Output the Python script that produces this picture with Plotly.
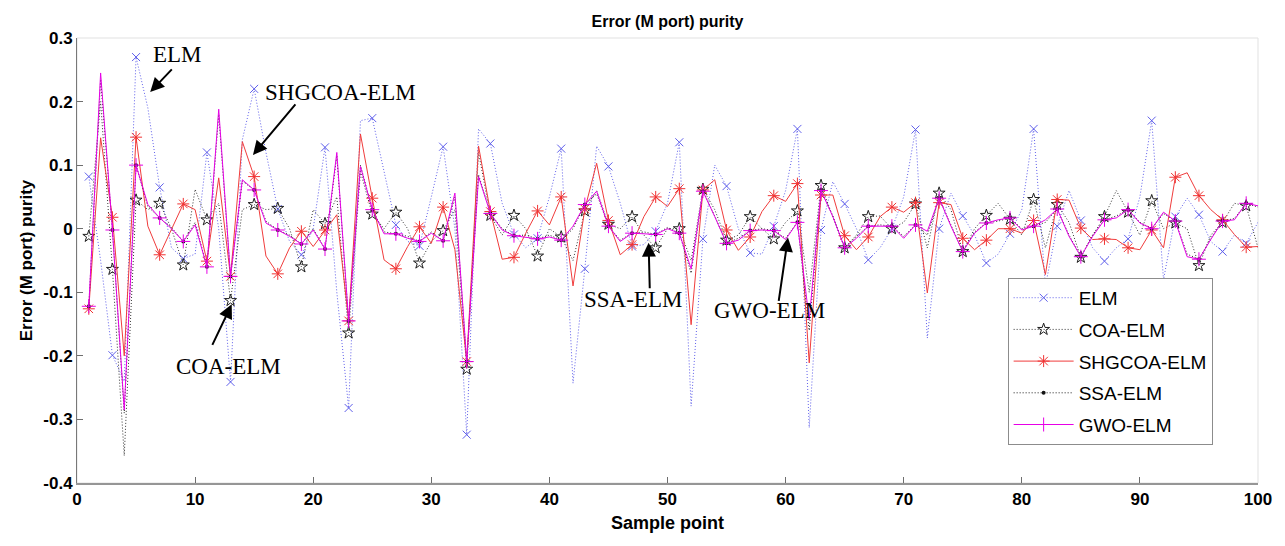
import plotly.graph_objects as go

x_vals = list(range(1, 101))

elm = [0.082, -0.05, -0.199, -0.24, 0.27, 0.19, 0.065, -0.03, -0.047, -0.04,
       0.12, 0.0, -0.241, 0.14, 0.22, 0.12, 0.031, -0.02, -0.041, 0.0,
       0.128, -0.1, -0.282, 0.17, 0.174, 0.09, 0.006, -0.02, -0.027, 0.05,
       0.129, 0.0, -0.324, 0.157, 0.134, 0.04, -0.009, -0.03, -0.015, 0.05,
       0.126, -0.243, -0.063, 0.13, 0.098, 0.04, -0.028, -0.025, -0.004, 0.04,
       0.136, -0.279, -0.016, 0.1, 0.067, 0.0, -0.038, -0.04, 0.004, 0.06,
       0.157, -0.313, -0.002, 0.074, 0.039, 0.0, -0.049, -0.03, 0.0, 0.05,
       0.156, -0.172, 0.0, 0.056, 0.02, -0.01, -0.054, -0.04, -0.008, 0.03,
       0.157, -0.09, 0.004, 0.06, 0.013, -0.03, -0.051, -0.03, -0.016, 0.05,
       0.17, -0.08, 0.019, 0.048, 0.022, -0.02, -0.036, -0.01, -0.023, 0.01]

coa = [-0.012, 0.2, -0.064, -0.357, 0.045, 0.03, 0.04, 0.0, -0.057, 0.062,
       0.014, 0.04, -0.113, 0.03, 0.038, 0.03, 0.032, 0.0, -0.06, 0.03,
       0.008, 0.05, -0.164, 0.09, 0.023, 0.0, 0.026, 0.0, -0.054, -0.02,
       -0.003, 0.03, -0.221, 0.12, 0.021, -0.01, 0.021, 0.0, -0.043, 0.0,
       -0.013, -0.05, 0.028, 0.06, 0.007, 0.0, 0.019, -0.01, -0.03, 0.0,
       0.0, -0.05, 0.062, 0.03, -0.018, -0.01, 0.019, 0.0, -0.016, 0.01,
       0.028, -0.1, 0.068, 0.02, -0.03, -0.01, 0.019, 0.02, 0.0, 0.01,
       0.039, -0.03, 0.056, 0.03, -0.036, 0.0, 0.021, 0.04, 0.015, -0.01,
       0.046, -0.03, 0.038, 0.01, -0.045, -0.01, 0.019, 0.06, 0.026, -0.01,
       0.044, 0.0, 0.009, 0.0, -0.058, -0.01, 0.01, 0.04, 0.036, -0.03]

shgcoa = [-0.126, 0.143, 0.018, -0.2, 0.144, 0.004, -0.041, 0.0, 0.039, 0.03,
          -0.051, 0.08, -0.075, 0.137, 0.082, -0.043, -0.071, -0.03, -0.004, -0.028,
          -0.002, 0.022, -0.145, 0.149, 0.048, -0.049, -0.063, -0.028, 0.003, -0.023,
          0.034, -0.033, -0.209, 0.13, 0.027, -0.048, -0.045, -0.007, 0.028, 0.006,
          0.05, -0.09, 0.031, 0.103, 0.013, -0.041, -0.025, 0.019, 0.05, 0.035,
          0.063, -0.151, 0.061, 0.077, -0.002, -0.034, -0.013, 0.027, 0.052, 0.043,
          0.071, -0.211, 0.053, 0.053, -0.011, -0.033, -0.013, 0.019, 0.034, 0.026,
          0.041, -0.101, 0.041, 0.038, -0.015, -0.033, -0.018, 0.0, 0.0, -0.007,
          0.013, -0.072, 0.046, 0.045, 0.001, -0.017, -0.016, -0.017, -0.03, -0.033,
          -0.002, -0.03, 0.081, 0.088, 0.052, 0.03, 0.014, -0.009, -0.029, -0.028]

ssa = [-0.122, 0.235, -0.002, -0.29, 0.1, 0.035, 0.017, 0.002, -0.02, 0.01,
       -0.06, 0.18, -0.075, 0.075, 0.061, 0.012, -0.002, -0.01, -0.024, 0.0,
       -0.032, 0.115, -0.145, 0.1, 0.03, -0.005, -0.008, -0.012, -0.02, -0.005,
       -0.019, 0.05, -0.209, 0.085, 0.024, 0.0, -0.011, -0.01, -0.016, -0.01,
       -0.018, 0.0, 0.038, 0.055, 0.004, -0.018, -0.007, -0.005, -0.009, 0.002,
       -0.007, -0.07, 0.059, 0.02, -0.023, -0.015, -0.003, 0.0, -0.003, -0.015,
       0.01, -0.16, 0.06, 0.02, -0.03, -0.012, 0.004, 0.006, 0.004, -0.012,
       0.006, -0.01, 0.048, 0.006, -0.036, -0.005, 0.009, 0.012, 0.017, 0.0,
       0.004, 0.01, 0.031, -0.01, -0.044, -0.01, 0.014, 0.02, 0.03, 0.01,
       0.0, 0.024, 0.012, -0.04, -0.048, -0.015, 0.012, 0.016, 0.04, 0.034]

gwo = [-0.122, 0.245, -0.002, -0.285, 0.1, 0.038, 0.017, 0.0, -0.02, 0.006,
       -0.06, 0.188, -0.075, 0.077, 0.061, 0.009, -0.002, -0.012, -0.024, -0.002,
       -0.032, 0.12, -0.145, 0.098, 0.03, -0.008, -0.008, -0.015, -0.02, -0.007,
       -0.019, 0.056, -0.209, 0.082, 0.024, -0.002, -0.011, -0.013, -0.016, -0.013,
       -0.018, 0.004, 0.038, 0.059, 0.004, -0.02, -0.007, -0.008, -0.009, 0.0,
       -0.007, -0.063, 0.059, 0.019, -0.023, -0.018, -0.003, -0.002, -0.003, -0.017,
       0.01, -0.143, 0.06, 0.019, -0.03, -0.015, 0.004, 0.004, 0.004, -0.015,
       0.006, -0.004, 0.048, 0.004, -0.036, -0.007, 0.009, 0.014, 0.017, -0.002,
       0.004, 0.014, 0.031, -0.012, -0.044, -0.012, 0.014, 0.017, 0.03, 0.009,
       0.0, 0.026, 0.012, -0.044, -0.048, -0.017, 0.012, 0.014, 0.04, 0.036]

x_ticks = [0, 10, 20, 30, 40, 50, 60, 70, 80, 90, 100]
y_ticks = [0.3, 0.2, 0.1, 0.0, -0.1, -0.2, -0.3, -0.4]
y_ticktext = ["0.3", "0.2", "0.1", "0", "-0.1", "-0.2", "-0.3", "-0.4"]

DOT = "1px,2px"
series = [
    ("ELM", elm, dict(color="rgb(95,95,235)", dash=DOT, width=1),
     dict(symbol="x-thin-open", size=8, color="rgb(95,95,235)", line=dict(width=1, color="rgb(95,95,235)"))),
    ("COA-ELM", coa, dict(color="rgb(50,50,50)", dash=DOT, width=1),
     dict(symbol="star-open", size=9, color="rgb(30,30,30)", line=dict(width=1, color="rgb(30,30,30)"))),
    ("SHGCOA-ELM", shgcoa, dict(color="rgb(240,60,60)", dash="solid", width=1),
     dict(symbol="asterisk-open", size=10, color="rgb(240,50,50)", line=dict(width=1, color="rgb(240,50,50)"))),
    ("SSA-ELM", ssa, dict(color="rgb(30,30,30)", dash=DOT, width=1),
     dict(symbol="circle", size=4, color="rgb(20,20,20)", line=dict(width=0))),
    ("GWO-ELM", gwo, dict(color="rgb(230,0,230)", dash="solid", width=1),
     dict(symbol="cross-thin-open", size=10, color="rgb(230,0,230)", line=dict(width=1, color="rgb(230,0,230)"))),
]

fig = go.Figure()
for name, vals, line, marker in series:
    fig.add_trace(go.Scatter(x=x_vals, y=vals, mode="lines", line=line,
                             showlegend=False, hoverinfo="skip"))
    fig.add_trace(go.Scatter(x=x_vals[::2], y=vals[::2], mode="markers",
                             marker=marker, showlegend=False, name=name))
for name, vals, line, marker in series:
    fig.add_trace(go.Scatter(x=[None], y=[None], mode="lines+markers", name=name,
                             line=line, marker=marker, legendgroup=name))

arrows = [
    (6.2, 0.215, 8.15, 0.253),
    (14.9, 0.116, 18.6, 0.198),
    (13.1, -0.119, 11.4, -0.185),
    (48.4, -0.022, 48.5, -0.096),
    (60.2, -0.014, 59.4, -0.116),
]
labels = [
    ("ELM", 8.5, 0.274),
    ("SHGCOA-ELM", 22.3, 0.215),
    ("COA-ELM", 12.8, -0.217),
    ("SSA-ELM", 47.1, -0.112),
    ("GWO-ELM", 58.6, -0.129),
]
annos = []
for hx, hy, tx, ty in arrows:
    annos.append(dict(x=hx, y=hy, ax=tx, ay=ty, xref="x", yref="y", axref="x", ayref="y",
                      text="", showarrow=True, arrowhead=2, arrowsize=1.4, arrowwidth=2,
                      arrowcolor="black", standoff=0, startstandoff=0))
for t, lx, ly in labels:
    annos.append(dict(x=lx, y=ly, xref="x", yref="y", text=t, showarrow=False,
                      font=dict(family="Liberation Serif, Times New Roman, serif", size=23, color="black")))

TICKFONT = dict(family="Liberation Sans Narrow, Liberation Sans, Arial, sans-serif", size=17,
                color="black", weight="bold")

fig.update_layout(
    width=1285, height=546,
    margin=dict(l=77, r=27, t=38, b=63),
    paper_bgcolor="white", plot_bgcolor="white",
    title=dict(text="<b>Error (M port) purity</b>", x=0.5, xref="paper", y=0.96, yref="container",
               xanchor="center", yanchor="middle",
               font=dict(family="Liberation Sans, Arial, sans-serif", size=16, color="black")),
    xaxis=dict(range=[0, 100], tickvals=x_ticks, ticks="inside", ticklen=6, tickcolor="rgb(110,110,110)",
               showgrid=False, zeroline=False, showline=True, linecolor="rgb(150,150,150)", linewidth=2,
               tickfont=TICKFONT,
               title=dict(text="<b>Sample point</b>", standoff=8,
                          font=dict(family="Liberation Sans Narrow, Liberation Sans, Arial, sans-serif", size=18, color="black"))),
    yaxis=dict(range=[-0.4, 0.3], tickvals=y_ticks, ticktext=y_ticktext, ticks="inside", ticklen=6,
               tickcolor="rgb(110,110,110)",
               showgrid=False, zeroline=False, showline=True, linecolor="rgb(120,120,120)", linewidth=1,
               tickfont=TICKFONT,
               title=dict(text="<b>Error (M port) purity</b>", standoff=6,
                          font=dict(family="Liberation Sans, Arial, sans-serif", size=17, color="black"))),
    legend=dict(x=0.788, y=0.461, xanchor="left", yanchor="top", bgcolor="white",
                bordercolor="rgb(140,140,140)", borderwidth=1, tracegroupgap=4,
                font=dict(family="Liberation Sans, Arial, sans-serif", size=19, color="black"),
                itemwidth=60),
    annotations=annos,
    shapes=[dict(type="rect", xref="paper", yref="paper", x0=0, y0=0, x1=1, y1=1,
                 line=dict(color="rgb(225,225,225)", width=1), layer="below")],
)

fig.write_html("out.html")
